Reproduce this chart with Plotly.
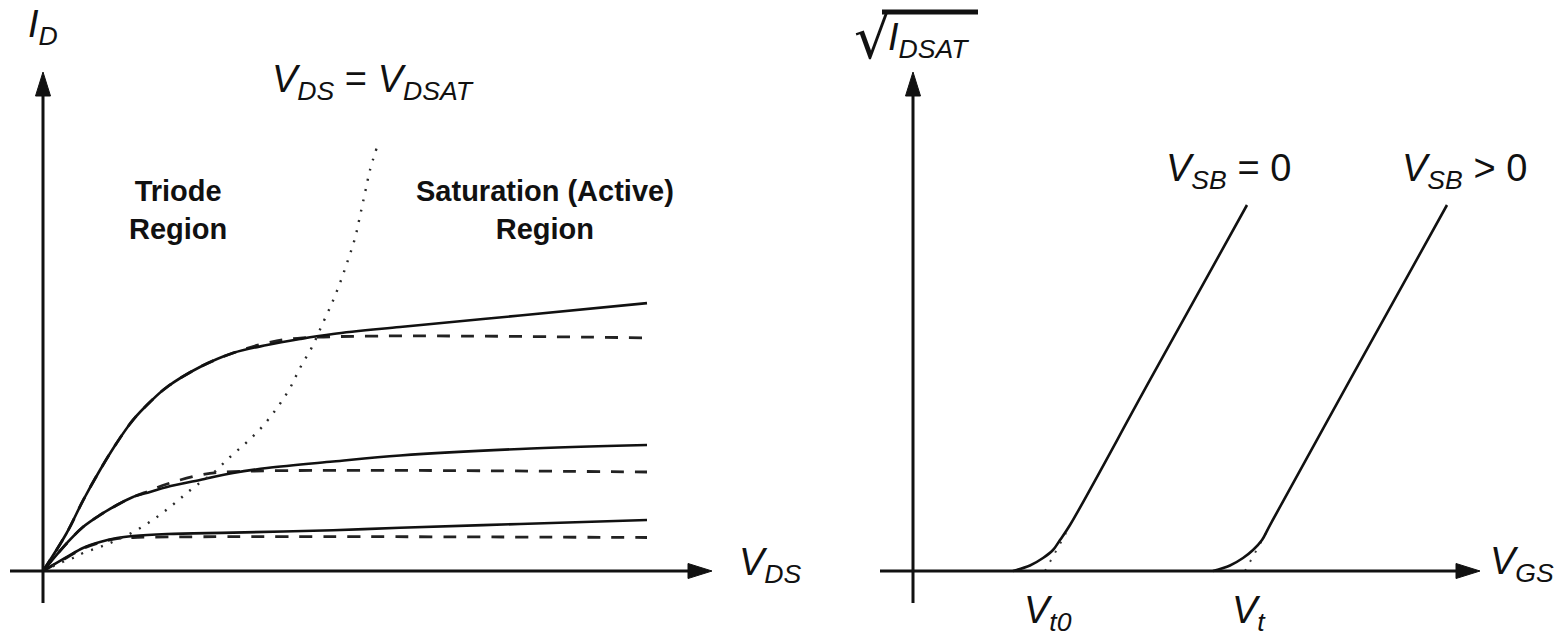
import plotly.graph_objects as go

W, H = 1556, 640

# ---------------- Left panel: I_D vs V_DS (arbitrary units) ----------------
vds_top = [0, 0.392, 0.667, 0.944, 1.22, 1.49, 1.772, 2.053, 2.599, 3.146, 3.709, 4.255, 4.801, 5.911, 7.897, 10.0]
id_top = [0, 1.267, 2.367, 3.367, 4.267, 5.033, 5.633, 6.133, 6.8, 7.267, 7.533, 7.733, 7.9, 8.133, 8.517, 8.93]
vds_top_ideal = [0, 0.392, 0.667, 0.944, 1.22, 1.49, 1.772, 2.053, 2.599, 3.146, 3.709, 4.3, 10.0]
id_top_ideal = [0, 1.267, 2.367, 3.367, 4.267, 5.033, 5.633, 6.133, 6.8, 7.267, 7.6, 7.77, 7.77]

vds_mid = [0, 0.397, 0.662, 0.944, 1.225, 1.49, 1.772, 2.053, 2.599, 3.146, 3.709, 4.801, 5.911, 7.897, 10.0]
id_mid = [0, 0.933, 1.467, 1.867, 2.2, 2.467, 2.633, 2.8, 3.033, 3.267, 3.433, 3.65, 3.85, 4.067, 4.2]
vds_mid_ideal = [0, 0.397, 0.662, 0.944, 1.225, 1.49, 1.772, 2.053, 2.6, 3.0, 10.0]
id_mid_ideal = [0, 0.933, 1.467, 1.867, 2.2, 2.467, 2.68, 2.9, 3.2, 3.3, 3.3]

vds_low = [0, 0.397, 0.662, 0.944, 1.225, 1.49, 2.053, 3.146, 4.801, 5.911, 7.897, 10.0]
id_low = [0, 0.467, 0.767, 0.967, 1.1, 1.167, 1.233, 1.28, 1.36, 1.44, 1.567, 1.7]
vds_low_ideal = [0, 0.397, 0.662, 0.944, 1.225, 1.49, 10.0]
id_low_ideal = [0, 0.45, 0.75, 0.95, 1.08, 1.117, 1.117]

vdsat_x = [0, 0.281, 0.497, 0.662, 0.944, 1.225, 1.556, 1.887, 2.185, 2.483, 2.815, 3.096, 3.377,
           3.626, 3.874, 4.089, 4.255, 4.454, 4.619, 4.785, 4.917, 5.05, 5.166, 5.248, 5.331, 5.414, 5.53]
vdsat_y = [0, 0.267, 0.433, 0.6, 0.8, 1.033, 1.367, 1.8, 2.267, 2.767, 3.267, 3.8, 4.3,
           4.8, 5.433, 6.1, 6.767, 7.467, 8.2, 8.933, 9.6, 10.367, 11.1, 11.833, 12.6, 13.367, 14.133]

# ---------------- Right panel: sqrt(I_DSAT) vs V_GS ----------------
vgs_sb0 = [2.0, 2.34, 2.6, 2.8, 2.94, 3.14, 4.74, 6.68]
vgs_sbp = [6.0, 6.34, 6.6, 6.8, 6.98, 7.14, 8.74, 10.68]
sqrt_id = [0, 0.183, 0.433, 0.7, 1.033, 1.533, 6.367, 12.2]
vgs_ext_sb0 = [2.64, 3.06]
vgs_ext_sbp = [6.64, 7.06]
sqrt_ext = [0, 1.267]

# ---------------- pixel geometry ----------------
L_OX, L_SX = 43, 60.4    # left origin px, px per unit
R_OX, R_SX = 913, 50.0   # right origin px, px per unit
OY, SY = 571, 30.0       # shared origin py, px per unit

def lx(px): return (px - L_OX) / L_SX
def rx(px): return (px - R_OX) / R_SX
def yy(py): return (OY - py) / SY
def PX(px): return px / W
def PY(py): return 1 - py / H

fig = go.Figure()
BLACK = "#111111"

def add(x, y, axis, dash="solid", width=2.6, color=BLACK, smooth=1.0):
    fig.add_trace(go.Scatter(x=x, y=y, xaxis=axis, yaxis="y", mode="lines",
                             line=dict(color=color, width=width, dash=dash, shape="spline", smoothing=smooth),
                             hoverinfo="skip", showlegend=False))

DASH = "13px,11px"
DOT = "2px,8.5px"
add(vds_top_ideal, id_top_ideal, "x", DASH, 2.8, "#222222")
add(vds_mid_ideal, id_mid_ideal, "x", DASH, 2.8, "#222222")
add(vds_low_ideal, id_low_ideal, "x", DASH, 2.8, "#222222")
add(vds_top, id_top, "x")
add(vds_mid, id_mid, "x")
add(vds_low, id_low, "x")
add(vdsat_x, vdsat_y, "x", DOT, 2.4, "#2a2a2a")

add(vgs_ext_sb0, sqrt_ext, "x2", DOT, 2.0, "#3a3a3a")
add(vgs_ext_sbp, sqrt_ext, "x2", DOT, 2.0, "#3a3a3a")
add(vgs_sb0, sqrt_id, "x2", width=2.6)
add(vgs_sbp, sqrt_id, "x2", width=2.6)

shapes = []
AXW = 3
def axis_line(xref, x0, y0, x1, y1):
    shapes.append(dict(type="line", xref=xref, yref="y", x0=x0, y0=y0, x1=x1, y1=y1,
                       line=dict(color=BLACK, width=AXW)))

def arrow_head(xref, x, y, direction):
    if direction == "right":
        path = "M0,0 L-24,7.5 L-24,-7.5 Z"
    else:
        path = "M0,0 L-7.5,-24 L7.5,-24 Z"
    shapes.append(dict(type="path", xref=xref, yref="y", xsizemode="pixel", ysizemode="pixel",
                       xanchor=x, yanchor=y, path=path, fillcolor=BLACK,
                       line=dict(color=BLACK, width=1)))

# left axes
axis_line("x", lx(10), 0, lx(694), 0)
axis_line("x", 0, yy(603), 0, yy(90))
arrow_head("x", lx(712), 0, "right")
arrow_head("x", 0, yy(72), "up")
# right axes
axis_line("x2", rx(880), 0, rx(1462), 0)
axis_line("x2", 0, yy(603), 0, yy(90))
arrow_head("x2", rx(1480), 0, "right")
arrow_head("x2", 0, yy(72), "up")
# overline of the square-root sign
shapes.append(dict(type="line", xref="paper", yref="paper", x0=PX(882), x1=PX(978), y0=PY(12), y1=PY(12),
                   line=dict(color=BLACK, width=5)))

FONT = "Liberation Sans, Arial, sans-serif"
anns = []
def label(text, px, py, size=38, xanchor="left", family=FONT):
    anns.append(dict(text=text, x=PX(px), y=PY(py), xref="paper", yref="paper",
                     xanchor=xanchor, yanchor="middle", showarrow=False,
                     font=dict(family=family, size=size, color=BLACK)))

label("<i>I<sub>D</sub></i>", 26, 27)
label("<i>V<sub>DS</sub></i> = <i>V<sub>DSAT</sub></i>", 270, 82)
label("<b>Triode<br>Region</b>", 178, 210, size=29, xanchor="center")
label("<b>Saturation (Active)<br>Region</b>", 545, 210, size=29, xanchor="center")
label("<i>V<sub>DS</sub></i>", 737, 565)
label("√", 852, 38, size=58, family="DejaVu Sans, sans-serif")
label("<i>I<sub>DSAT</sub></i>", 886, 40)
label("<i>V<sub>SB</sub></i> = 0", 1164, 171)
label("<i>V<sub>SB</sub></i> > 0", 1400, 171)
label("<i>V<sub>GS</sub></i>", 1488, 564)
label("<i>V<sub>t0</sub></i>", 1022, 613)
label("<i>V<sub>t</sub></i>", 1230, 613)

hidden = dict(visible=False, showgrid=False, zeroline=False, fixedrange=True)
fig.update_layout(
    width=W, height=H,
    margin=dict(l=0, r=0, t=0, b=0),
    paper_bgcolor="white", plot_bgcolor="white",
    xaxis=dict(range=[lx(0), lx(W)], domain=[0, 1], **hidden),
    xaxis2=dict(range=[rx(0), rx(W)], domain=[0, 1], overlaying="x", **hidden),
    yaxis=dict(range=[yy(H), yy(0)], domain=[0, 1], **hidden),
    shapes=shapes, annotations=anns,
    showlegend=False,
)

fig.write_html("out.html")
